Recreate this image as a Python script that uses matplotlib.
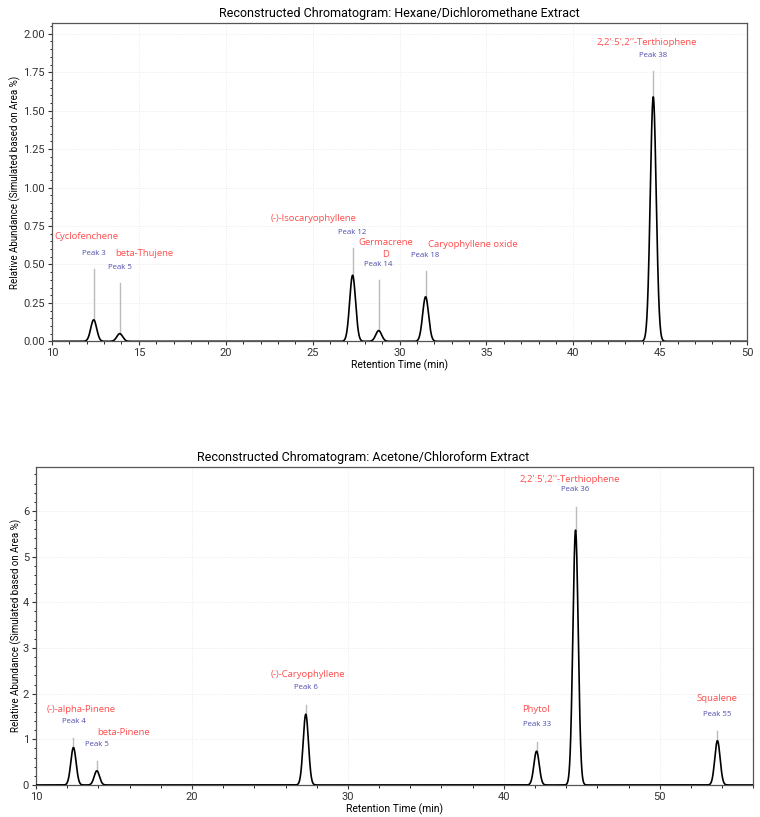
import numpy as np
import matplotlib
matplotlib.use("Agg")
import matplotlib.pyplot as plt
from matplotlib.ticker import AutoMinorLocator, MultipleLocator

# --- data: hexane / dichloromethane extract
hex_rt = [12.4, 13.9, 27.3, 28.8, 31.5, 44.6]
hex_height = [0.14, 0.05, 0.43, 0.07, 0.29, 1.59]
hex_names = ["Cyclofenchene", "beta-Thujene", "(-)-Isocaryophyllene",
             "Germacrene\nD", "Caryophyllene oxide", "2,2':5',2''-Terthiophene"]
hex_peaks = ["Peak 3", "Peak 5", "Peak 12", "Peak 14", "Peak 18", "Peak 38"]

# --- data: acetone / chloroform extract
ace_rt = [12.4, 13.9, 27.3, 42.1, 44.6, 53.7]
ace_height = [0.82, 0.31, 1.55, 0.74, 5.58, 0.97]
ace_names = ["(-)-alpha-Pinene", "beta-Pinene", "(-)-Caryophyllene",
             "Phytol", "2,2':5',2''-Terthiophene", "Squalene"]
ace_peaks = ["Peak 4", "Peak 5", "Peak 6", "Peak 33", "Peak 36", "Peak 55"]

# --- label layout (offsets above apex, label x shifts)
hex_line_off = [0.33, 0.33, 0.18, 0.33, 0.17, 0.17]
hex_blue_off = 0.10
hex_red_off = [0.11, 0.09, 0.09, 0.105, 0.07, 0.085]
hex_red_dx = [-0.4, 1.43, -2.24, 0.4, 2.7, -0.38]

ace_line_off = [0.20, 0.21, 0.21, 0.21, 0.51, 0.21]
ace_blue_off = 0.37
ace_red_off = [0.26, 0.26, 0.28, 0.34, 0.24, 0.34]
ace_red_dx = [0.47, 1.73, 0.14, -0.07, -0.35, -0.02]

SIGMA = 0.17
RED = "#ff4d4d"
BLUE = "#4d4dae"

plt.rcParams["font.family"] = ["Roboto", "DejaVu Sans"]

fig = plt.figure(figsize=(7.6, 8.17), dpi=100)
ax1 = fig.add_axes([0.0684, 0.5822, 0.9146, 0.3896])
ax2 = fig.add_axes([0.0474, 0.0392, 0.9438, 0.3896])


def draw(ax, rt, height, names, peaks, line_off, blue_off, red_off, red_dx,
         xlim, ylim, xmaj, ymaj, title, title_x, ylabel_x):
    t = np.linspace(xlim[0], xlim[1], 4000)
    signal = np.zeros_like(t)
    for r, h in zip(rt, height):
        signal += h * np.exp(-0.5 * ((t - r) / SIGMA) ** 2)
    ax.plot(t, signal, color="black", lw=1.2, zorder=3)

    for i, (r, h) in enumerate(zip(rt, height)):
        top = h + line_off[i]
        ax.plot([r, r], [h, top], color="#bbbbbb", lw=1.0, zorder=2)
        yb = top + blue_off
        ax.text(r, yb, peaks[i], color=BLUE, fontsize=5.6, ha="center",
                va="center", family=["Open Sans", "DejaVu Sans"])
        ax.text(r + red_dx[i], yb + red_off[i], names[i], color=RED,
                fontsize=6.8, ha="center", va="center", linespacing=1.4,
                family=["Open Sans", "DejaVu Sans"])

    ax.set_xlim(*xlim)
    ax.set_ylim(*ylim)
    ax.xaxis.set_major_locator(MultipleLocator(xmaj))
    ax.yaxis.set_major_locator(MultipleLocator(ymaj))
    ax.xaxis.set_minor_locator(AutoMinorLocator())
    ax.yaxis.set_minor_locator(AutoMinorLocator())
    ax.grid(True, which="major", color="#e6e6e6", lw=0.6, ls=":")
    ax.tick_params(labelsize=8, colors="#333333", length=3, pad=2)
    ax.tick_params(which="minor", length=1.8)
    for s in ax.spines.values():
        s.set_color("#555555")
        s.set_linewidth(0.9)
    ax.set_xlabel("Retention Time (min)", fontsize=7.5, labelpad=1)
    ax.set_ylabel("Relative Abundance (Simulated based on Area %)", fontsize=7)
    ax.yaxis.set_label_coords(ylabel_x, 0.5)
    ax.set_title(title, fontsize=9, x=title_x, pad=4)


draw(ax1, hex_rt, hex_height, hex_names, hex_peaks, hex_line_off, hex_blue_off,
     hex_red_off, hex_red_dx, (10, 50), (0, 2.07), 5, 0.25,
     "Reconstructed Chromatogram: Hexane/Dichloromethane Extract", 0.5, -0.044)
ax1.yaxis.set_major_formatter(plt.FormatStrFormatter("%.2f"))

draw(ax2, ace_rt, ace_height, ace_names, ace_peaks, ace_line_off, ace_blue_off,
     ace_red_off, ace_red_dx, (10, 56), (0, 6.97), 10, 1,
     "Reconstructed Chromatogram: Acetone/Chloroform Extract", 0.456, -0.020)

fig.savefig("out.png", dpi=100)
